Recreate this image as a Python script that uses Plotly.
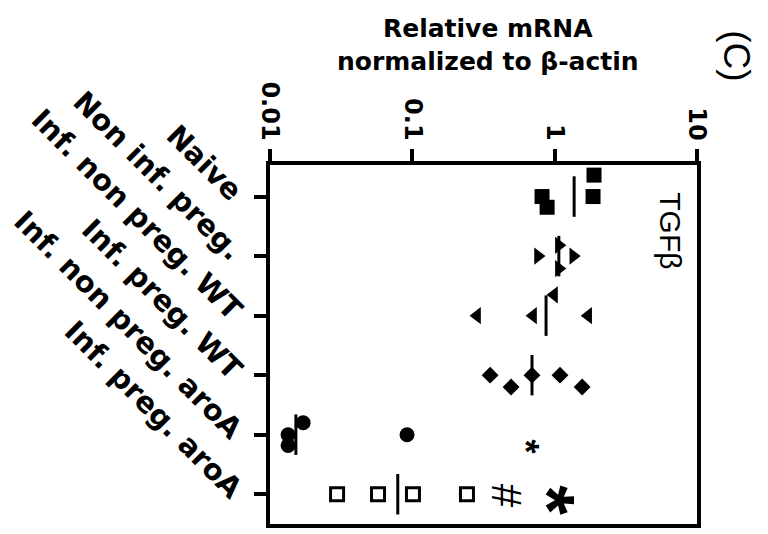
import numpy as np
import plotly.graph_objects as go

# ---------------- data ----------------
categories = ["Naive", "Non inf. preg.", "Inf. non preg. WT", "Inf. preg. WT",
              "Inf. non preg. aroA", "Inf. preg. aroA"]
naive = [1.89, 1.86, 0.815, 0.885]
non_inf_preg = [0.764, 1.07, 1.35, 1.07]
inf_non_preg_wt = [0.99, 0.285, 0.705, 1.72]
inf_preg_wt = [0.352, 0.494, 0.693, 1.09, 1.56]
inf_non_preg_aroa = [0.0134, 0.0134, 0.0171, 0.0918]
inf_preg_aroa = [0.0296, 0.0574, 0.101, 0.242]
medians = [1.37, 1.07, 0.87, 0.693, 0.0152, 0.079]
tick_values = [0.01, 0.1, 1, 10]
tick_labels = ["0.01", "0.1", "1", "10"]
sig_text = ["*", "#", "*"]
sig_value = [0.65, 0.46, 1.09]
sig_group = [4, 5, 5]

# ---------------- layout helpers ----------------
groups = [naive, non_inf_preg, inf_non_preg_wt, inf_preg_wt, inf_non_preg_aroa, inf_preg_aroa]
jitter = [[-0.36, 0, 0, 0.18], [0, -0.18, 0, 0.21], [-0.35, 0, 0, 0],
          [0, 0.2, 0, 0, 0.2], [0, 0.18, -0.2, 0], [0, 0, 0, 0]]
sig_offset = [0.2, 0.02, 0.1]
styles = [
    dict(symbol="square", size=15, color="black"),
    dict(symbol="triangle-right", size=15, color="black"),
    dict(symbol="triangle-left", size=15, color="black"),
    dict(symbol="diamond", size=13, color="black"),
    dict(symbol="circle", size=15, color="black"),
    dict(symbol="square-open", size=13, color="black", line=dict(width=3, color="black")),
]

fig = go.Figure()
for gi, (vals, st) in enumerate(zip(groups, styles)):
    ys = [gi + j for j in jitter[gi]]
    fig.add_trace(go.Scatter(x=vals, y=ys, mode="markers", marker=st,
                             showlegend=False, hoverinfo="x+y"))

# median lines
mx, my = [], []
for gi, m in enumerate(medians):
    mx += [m, m, None]
    my += [gi - 0.34, gi + 0.34, None]
fig.add_trace(go.Scatter(x=mx, y=my, mode="lines", line=dict(color="black", width=3),
                         showlegend=False, hoverinfo="skip"))

FONT = "DejaVu Sans"
annotations = [
    dict(text="<b>Relative mRNA</b><br><b>normalized to β-actin</b>",
         xref="paper", yref="paper", x=0.51, y=1.0 + (165 - 44) / 363,
         xanchor="center", yanchor="middle", showarrow=False,
         font=dict(family=FONT, size=25, color="black")),
    dict(text="(C)", xref="paper", yref="paper", x=(737 - 270) / 427,
         y=1.0 + (165 - 54) / 363, textangle=90, showarrow=False,
         xanchor="center", yanchor="middle",
         font=dict(family="Liberation Sans", size=37, color="black")),
    dict(text="TGFβ", xref="paper", yref="paper", x=(671 - 270) / 427,
         y=1.0 - (231 - 165) / 363, textangle=90, showarrow=False,
         xanchor="center", yanchor="middle",
         font=dict(family="Liberation Sans", size=30, color="black")),
]
sig_fonts = [dict(size=36, family="Liberation Sans", weight="bold"),
             dict(size=42, family="Liberation Sans"),
             dict(size=76, family="Liberation Sans", weight="bold")]
sig_shift = [-3, 0, -11]
for t, v, g, off, f, sh in zip(sig_text, sig_value, sig_group, sig_offset, sig_fonts, sig_shift):
    annotations.append(dict(text=t, x=np.log10(v), y=g + off, xref="x", yref="y",
                            showarrow=False, textangle=90, xshift=sh,
                            xanchor="center", yanchor="middle",
                            font=dict(color="black", **f)))

fig.update_layout(
    width=768, height=534,
    margin=dict(l=270, r=71, t=165, b=6),
    paper_bgcolor="white", plot_bgcolor="white",
    annotations=annotations,
    xaxis=dict(type="log", range=[-2, 1], side="top",
               tickvals=tick_values, ticktext=tick_labels, tickangle=90,
               ticks="outside", ticklen=12, tickwidth=4, tickcolor="black",
               showline=True, linewidth=4, linecolor="black", mirror=True,
               showgrid=False, zeroline=False,
               tickfont=dict(family=FONT, size=24, color="black", weight="bold")),
    yaxis=dict(range=[5.5, -0.53], tickvals=list(range(len(categories))),
               ticktext=categories, tickangle=45, ticklabelstandoff=8,
               ticks="outside", ticklen=12, tickwidth=4, tickcolor="black",
               showline=True, linewidth=4, linecolor="black", mirror=True,
               showgrid=False, zeroline=False,
               tickfont=dict(family=FONT, size=29, color="black", weight="bold")),
)

fig.write_html("out.html")
